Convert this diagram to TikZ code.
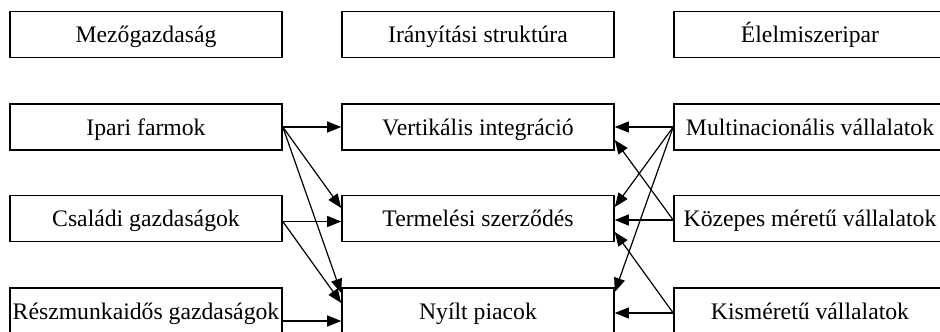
\documentclass[tikz,border=0pt]{standalone}
\usepackage{fontspec}
\setmainfont{Liberation Serif}
\usetikzlibrary{arrows.meta,positioning}

\begin{document}
\begin{tikzpicture}[x=1pt,y=-1pt,box/.style={rectangle,draw=black,line width=1.6pt,minimum width=272pt,minimum height=46pt,inner sep=0pt,text height=18pt,text depth=2pt,font=\fontsize{23.7}{28}\selectfont},link/.style={line width=1.2pt,-{Triangle[length=14pt,width=11pt]}},]
        \useasboundingbox (0,0) rectangle (940,332);

        \node[box] (mezo) at (146,34.5) {Mezőgazdaság};
        \node[box] (iranyitas) at (478,34.5) {Irányítási struktúra};
        \node[box] (elelmiszer) at (810,34.5) {Élelmiszeripar};

        \node[box] (ipari) at (146,127) {Ipari farmok};
        \node[box] (csaladi) at (146,218.5) {Családi gazdaságok};
        \node[box] (reszmunka) at (146,311) {Részmunkaidős gazdaságok};

        \node[box] (vertikalis) at (478,127) {Vertikális integráció};
        \node[box] (termelesi) at (478,218.5) {Termelési szerződés};
        \node[box] (nyilt) at (478,311) {Nyílt piacok};

        \node[box] (multi) at (810,127) {Multinacionális vállalatok};
        \node[box] (kozepes) at (810,218.5) {Közepes méretű vállalatok};
        \node[box] (kismeretu) at (810,311) {Kisméretű vállalatok};

        \draw[link] (ipari.east) -- (vertikalis.west);
        \draw[link] (ipari.east) -- ([yshift=10.5pt]termelesi.west);
        \draw[link] (ipari.east) -- ([yshift=18pt]nyilt.west);
        \draw[link] ([yshift=-3pt]csaladi.east) -- ([yshift=-3pt]termelesi.west);
        \draw[link] ([yshift=-3pt]csaladi.east) -- ([yshift=8pt]nyilt.west);
        \draw[link] ([yshift=-10pt]reszmunka.east) -- ([yshift=-10pt]nyilt.west);

        \draw[link] (multi.west) -- (vertikalis.east);
        \draw[link] (multi.west) -- ([yshift=11.5pt]termelesi.east);
        \draw[link] (multi.west) -- ([yshift=19pt]nyilt.east);
        \draw[link] ([yshift=-1.5pt]kozepes.west) -- ([yshift=-1.5pt]termelesi.east);
        \draw[link] ([yshift=-1.5pt]kozepes.west) -- ([yshift=-13pt]vertikalis.east);
        \draw[link] ([yshift=-2pt]kismeretu.west) -- ([yshift=-2pt]nyilt.east);
        \draw[link] ([yshift=-2pt]kismeretu.west) -- ([yshift=-13.5pt]termelesi.east);
    \end{tikzpicture}
\end{document}
